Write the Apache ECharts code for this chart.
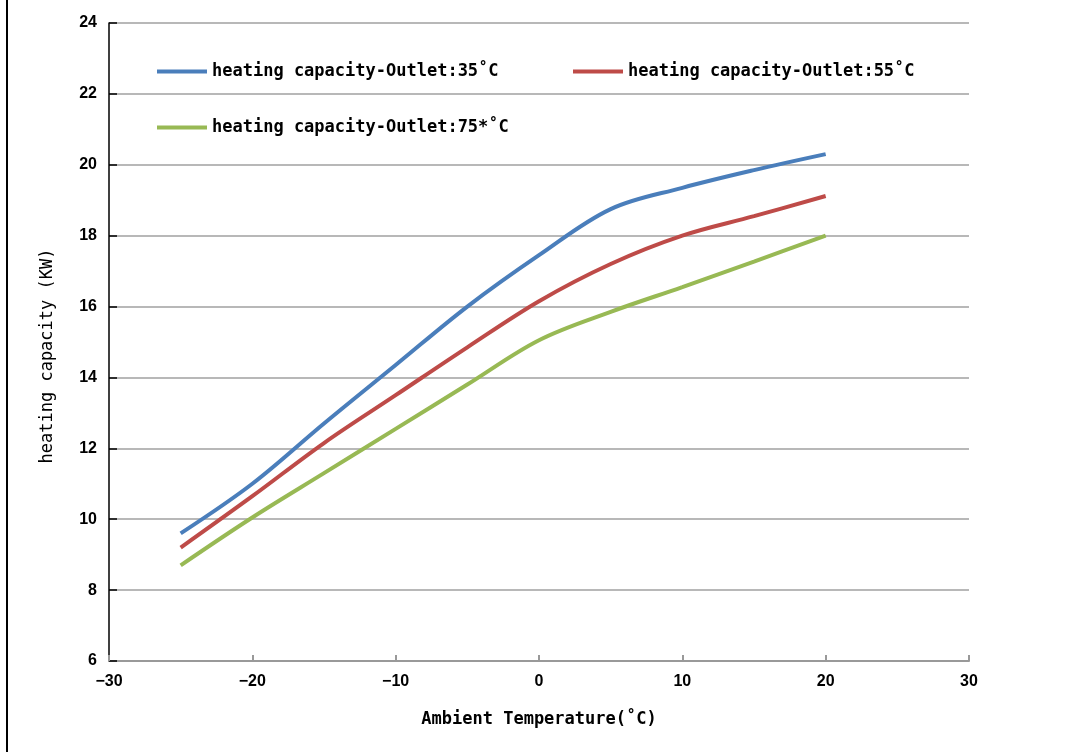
<!DOCTYPE html>
<html>
<head>
<meta charset="utf-8">
<script src="https://cdn.jsdelivr.net/npm/echarts@6/dist/echarts.min.js"></script>
<style>html,body{margin:0;padding:0;background:#fff}#c{width:1077px;height:752px}</style>
</head>
<body>
<div id="c"></div>
<script>
const temps = [-25, -20, -15, -10, -5, 0, 5, 10, 15, 20];
const outlet35 = [9.6, 11.0, 12.7, 14.35, 16.0, 17.45, 18.75, 19.35, 19.85, 20.3];
const outlet55 = [9.2, 10.65, 12.15, 13.5, 14.85, 16.15, 17.2, 18.0, 18.55, 19.12];
const outlet75 = [8.7, 10.05, 11.3, 12.55, 13.8, 15.05, 15.85, 16.55, 17.27, 18.0];
const seriesNames = ['heating capacity-Outlet:35\u02daC', 'heating capacity-Outlet:55\u02daC', 'heating capacity-Outlet:75*\u02daC'];
const colors = ['#4a7ebb', '#be4b48', '#98b954'];
const xName = 'Ambient Temperature(\u02daC)';
const yName = 'heating capacity (KW)';

const pairs = arr => temps.map((t, i) => [t, arr[i]]);
const allData = [outlet35, outlet55, outlet75];

const chart = echarts.init(document.getElementById('c'));
const legendText = {fontFamily: 'DejaVu Sans Mono', fontWeight: 'bold', fontSize: 17, color: '#000'};
const legendPos = [[152, 58], [568, 58], [152, 114]];
chart.setOption({
  animation: false,
  backgroundColor: '#fff',
  grid: {left: 109, right: 108, top: 23, bottom: 91},
  legend: legendPos.map((p, i) => ({
    left: p[0], top: p[1], data: [seriesNames[i]], icon: 'rect', itemWidth: 50, itemHeight: 4,
    itemGap: 5, textStyle: legendText
  })),
  xAxis: {
    type: 'value', min: -30, max: 30, interval: 10,
    name: xName, nameLocation: 'middle', nameGap: 50,
    nameTextStyle: {fontFamily: 'DejaVu Sans Mono', fontWeight: 'bold', fontSize: 17, color: '#000'},
    axisLine: {onZero: false, lineStyle: {color: '#999', width: 2}},
    axisTick: {show: true, inside: false, length: -6, lineStyle: {color: '#999', width: 2}},
    splitLine: {show: false},
    axisLabel: {fontFamily: 'Liberation Sans', fontWeight: 'bold', fontSize: 16, color: '#000', margin: 13,
      formatter: v => String(v).replace('-', '\u2212')}
  },
  yAxis: {
    type: 'value', min: 6, max: 24, interval: 2,
    name: yName, nameLocation: 'middle', nameGap: 53, nameRotate: 90,
    nameTextStyle: {fontFamily: 'DejaVu Sans Mono', fontSize: 17, color: '#000', padding: [0, 28, 0, 0]},
    axisLine: {show: true, onZero: false, lineStyle: {color: '#000', width: 1.5}},
    axisTick: {show: true, inside: false, length: -8, lineStyle: {color: '#000', width: 1.5}},
    splitLine: {lineStyle: {color: '#a0a0a0', width: 1.5}},
    axisLabel: {fontFamily: 'Liberation Sans', fontWeight: 'bold', fontSize: 16, color: '#000', margin: 12}
  },
  graphic: [{type: 'line', shape: {x1: 7, y1: 0, x2: 7, y2: 752}, style: {stroke: '#000', lineWidth: 2}}],
  series: allData.map((d, i) => ({
    type: 'line', name: seriesNames[i], data: pairs(d), smooth: 0.35, showSymbol: false,
    lineStyle: {color: colors[i], width: 4}, itemStyle: {color: colors[i]}
  }))
});
</script>
</body>
</html>
